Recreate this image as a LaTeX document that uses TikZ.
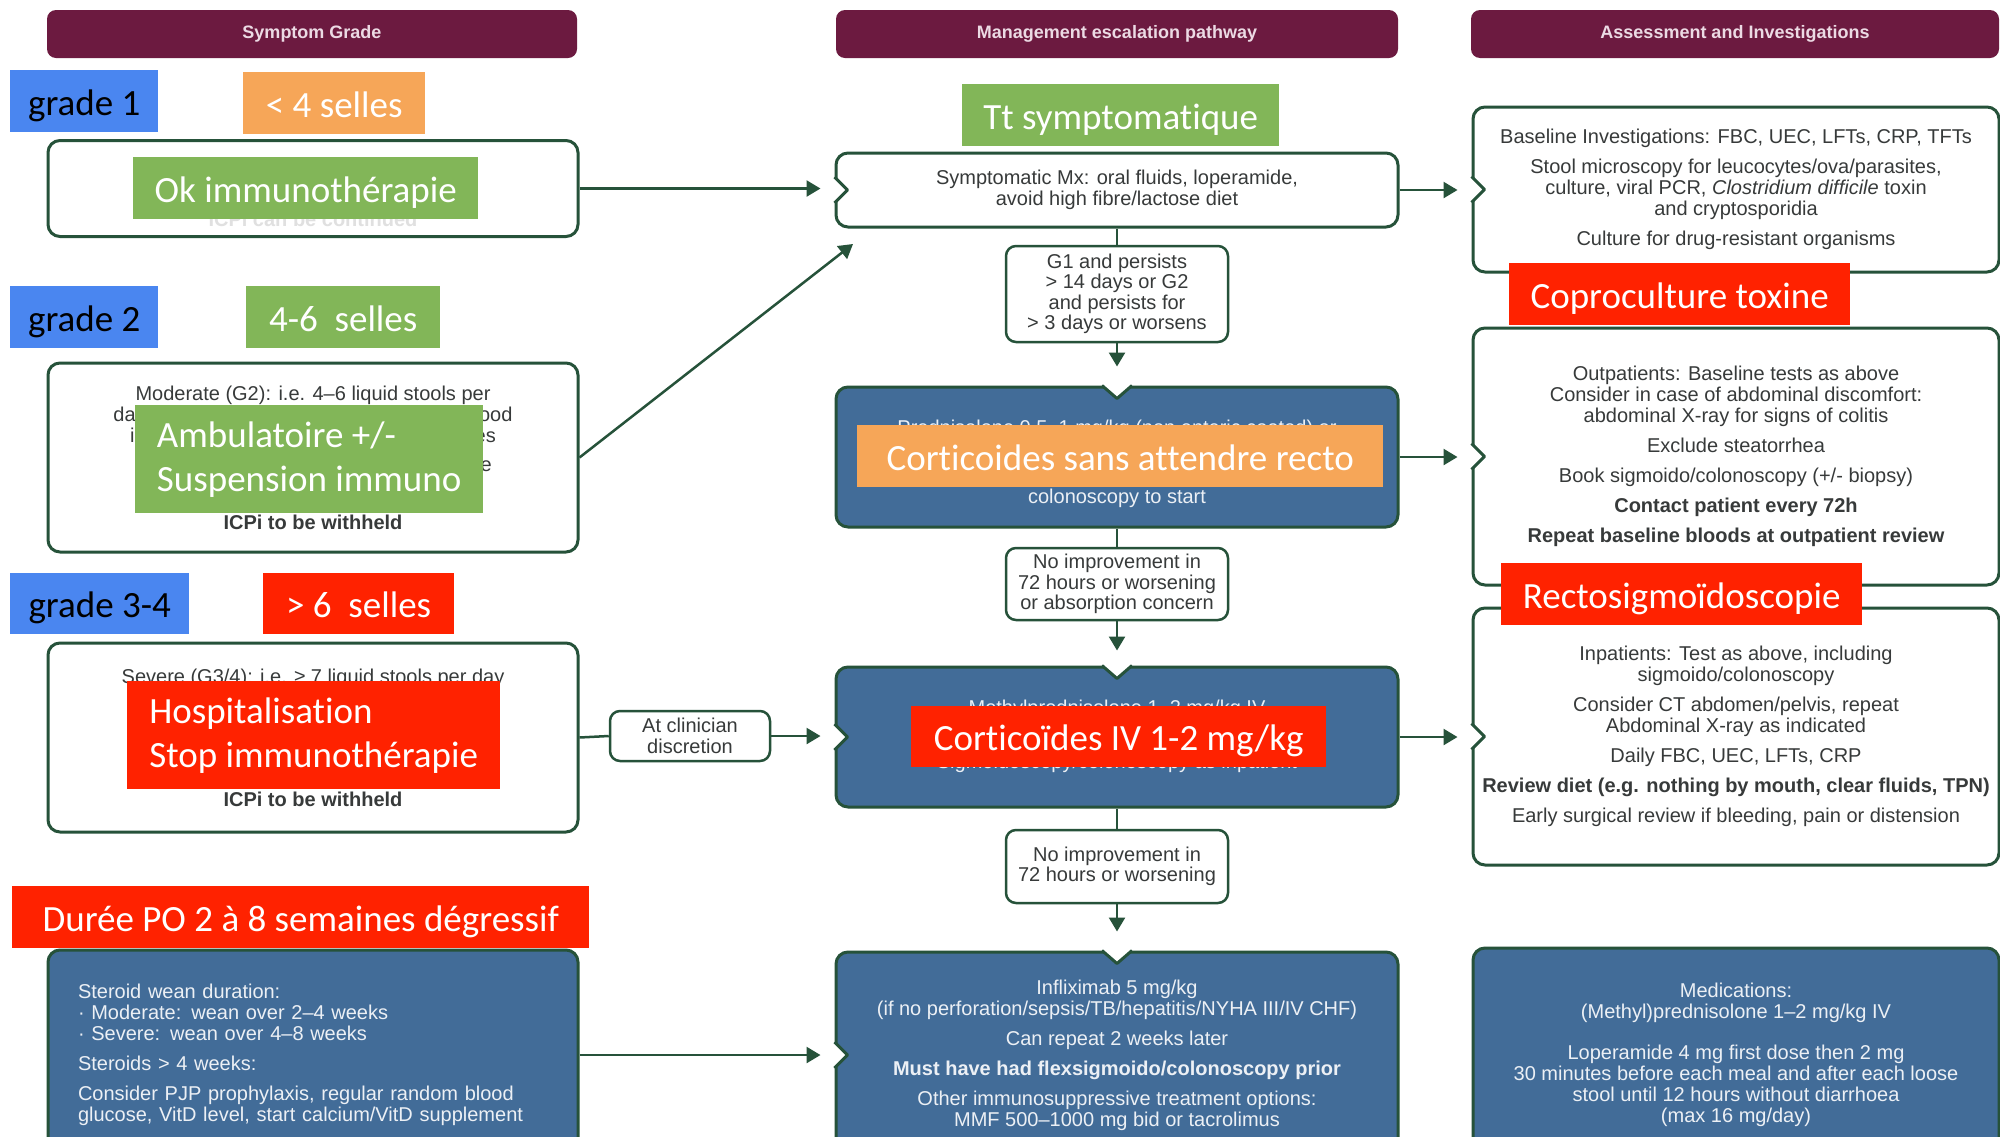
\documentclass[tikz,border=0pt]{standalone}
\usepackage{fontspec}
\setmainfont{Carlito}[Ligatures=NoCommon]
\newfontfamily\arial{Liberation Sans}
\usetikzlibrary{arrows.meta}

\definecolor{maroon}{RGB}{108,26,64}
\definecolor{headtxt}{RGB}{236,218,228}
\definecolor{dkgreen}{RGB}{38,82,58}
\definecolor{steel}{RGB}{66,108,152}
\definecolor{boxtxt}{RGB}{55,58,58}
\definecolor{tagblue}{RGB}{74,134,240}
\definecolor{tagorange}{RGB}{246,166,88}
\definecolor{taggreen}{RGB}{130,182,88}
\definecolor{tagred}{RGB}{255,34,0}

\tikzset{
  head/.style={fill=maroon, rounded corners=9pt, minimum height=48pt, text=headtxt, font=\arial\bfseries\fontsize{18}{20}\selectfont},
  wbox/.style={draw=dkgreen, line width=3pt, rounded corners=12pt, fill=white, align=center, text=boxtxt, inner sep=0pt, font=\arial\fontsize{20}{21}\selectfont},
  bbox/.style={wbox, fill=steel, text=white!90!steel},
  cond/.style={wbox, line width=2.5pt, rounded corners=10pt, font=\arial\fontsize{20}{20.5}\selectfont},
  boxtext/.style={inner sep=0pt, align=center, text=boxtxt, font=\arial\fontsize{20}{21}\selectfont},
  rim/.style={draw=dkgreen, line width=3pt, line join=round},
  conn/.style={draw=dkgreen, line width=2.5pt},
  flow/.style={conn, -{Triangle[length=14pt, width=16pt]}, shorten >=14pt},
  sticker/.style={inner sep=0pt, anchor=north west, text=white, align=left, font=\fontsize{37}{44}\selectfont},
  stickerone/.style={sticker, text height=32pt, text depth=4pt},
}

% notch in the left side of a box
\newcommand{\leftnotch}[1]{%
  \fill [white] (#1.west) ++(-2,-14) -- ++(15,14) -- ++(-15,14) -- cycle;
  \draw [rim] (#1.west) ++(0,-13) -- ++(13,13) -- ++(-13,13);}
% notch in the top side of a box
\newcommand{\topnotch}[1]{%
  \fill [white] (#1.north) ++(-16,-2) -- ++(16,15) -- ++(16,-15) -- cycle;
  \draw [rim] (#1.north) ++(-15,0) -- ++(15,13) -- ++(15,-13);}

\begin{document}
\begin{tikzpicture}[x=1pt, y=-1pt]
    \clip (0,0) rectangle (2000,1136); % page
    \fill [white] (0,0) rectangle (2000,1136); % background

    % column heads
    \node [head, minimum width=530pt] (headgrade) at (312,34) {Symptom Grade};
    \node [head, minimum width=562pt] (headpath) at (1117,34) {Management escalation pathway};
    \node [head, minimum width=528pt] (headinv) at (1735,34) {Assessment and Investigations};

    % symptom grade column
    \node [wbox, minimum width=530pt, minimum height=96pt] (g1) at (313,188.5) {};
    \node [boxtext, text=black!12] (g1t) at (313,219) {\textbf{ICPi can be continued}};
    \node [wbox, minimum width=530pt, minimum height=189pt] (g2) at (313,457.5) {Moderate (G2): i.e. 4–6 liquid stools per\\
      day over baseline or abdominal pain or blood\\
      in stool, or nausea, or nocturnal episodes\\[8pt]
      \hspace*{44pt}Outpatient management is possible\\[37pt]
      \textbf{ICPi to be withheld}};
    \node [wbox, minimum width=530pt, minimum height=189pt] (g3) at (313,737.5) {Severe (G3/4): i.e. ≥ 7 liquid stools per day\\[102pt]
      \textbf{ICPi to be withheld}};
    \node [bbox, minimum width=530pt, minimum height=210pt, text width=470pt, align=left] (wean) at (313,1055) {Steroid wean duration:\\
      · Moderate: wean over 2–4 weeks\\
      · Severe: wean over 4–8 weeks\\[9pt]
      Steroids > 4 weeks:\\[9pt]
      Consider PJP prophylaxis, regular random blood\\
      glucose, VitD level, start calcium/VitD supplement};
    \node [cond, minimum width=160pt, minimum height=50pt] (clin) at (690,736) {At clinician\\discretion};

    % escalation column
    \node [wbox, minimum width=562pt, minimum height=74pt] (m1) at (1117,190) {Symptomatic Mx: oral fluids, loperamide,\\avoid high fibre/lactose diet};
    \node [cond, minimum width=222pt, minimum height=96pt] (c1) at (1117,294) {G1 and persists\\> 14 days or G2\\and persists for\\> 3 days or worsens};
    \node [bbox, minimum width=562pt, minimum height=140pt] (m2) at (1117,457) {};
    \node [boxtext, text=white!90!steel, anchor=north] (m2t) at (1117,420) {Prednisolone 0.5–1 mg/kg (non enteric coated) or\\[48pt]colonoscopy to start};
    \node [cond, minimum width=222pt, minimum height=72pt] (c2) at (1117,584) {No improvement in\\72 hours or worsening\\or absorption concern};
    \node [bbox, minimum width=562pt, minimum height=140pt] (m3) at (1117,737) {};
    \node [boxtext, text=white!90!steel, anchor=north] (m3t) at (1117,700) {Methylprednisolone 1–2 mg/kg IV\\[33pt]Sigmoidoscopy/colonoscopy as inpatient};
    \node [cond, minimum width=222pt, minimum height=73pt] (c3) at (1117,866.5) {No improvement in\\72 hours or worsening};
    \node [bbox, minimum width=562pt, minimum height=206pt] (m4) at (1117,1055) {Infliximab 5 mg/kg\\
      (if no perforation/sepsis/TB/hepatitis/NYHA III/IV CHF)\\[9pt]
      Can repeat 2 weeks later\\[9pt]
      \textbf{Must have had flexsigmoido/colonoscopy prior}\\[9pt]
      Other immunosuppressive treatment options:\\
      MMF 500–1000 mg bid or tacrolimus};

    % investigations column
    \node [wbox, minimum width=526pt, minimum height=165pt] (r1) at (1736,189.5) {Baseline Investigations: FBC, UEC, LFTs, CRP, TFTs\\[9pt]
      Stool microscopy for leucocytes/ova/parasites,\\
      culture, viral PCR, \textit{Clostridium difficile} toxin\\
      and cryptosporidia\\[9pt]
      Culture for drug-resistant organisms};
    \node [wbox, minimum width=526pt, minimum height=257pt] (r2) at (1736,456.5) {Outpatients: Baseline tests as above\\
      Consider in case of abdominal discomfort:\\
      abdominal X-ray for signs of colitis\\[9pt]
      Exclude steatorrhea\\[9pt]
      Book sigmoido/colonoscopy (+/- biopsy)\\[9pt]
      \textbf{Contact patient every 72h}\\[9pt]
      \textbf{Repeat baseline bloods at outpatient review}};
    \node [wbox, minimum width=526pt, minimum height=257pt] (r3) at (1736,736.5) {Inpatients: Test as above, including\\
      sigmoido/colonoscopy\\[9pt]
      Consider CT abdomen/pelvis, repeat\\
      Abdominal X-ray as indicated\\[9pt]
      Daily FBC, UEC, LFTs, CRP\\[9pt]
      \textbf{Review diet (e.g. nothing by mouth, clear fluids, TPN)}\\[9pt]
      Early surgical review if bleeding, pain or distension};
    \node [bbox, minimum width=526pt, minimum height=214pt] (r4) at (1736,1055) {Medications:\\
      (Methyl)prednisolone 1–2 mg/kg IV\\[20pt]
      Loperamide 4 mg first dose then 2 mg\\
      30 minutes before each meal and after each loose\\
      stool until 12 hours without diarrhoea\\
      (max 16 mg/day)};

    % notches where arrows come in
    \leftnotch{m1} \leftnotch{m3} \leftnotch{m4}
    \topnotch{m2} \topnotch{m3} \topnotch{m4}
    \leftnotch{r1} \leftnotch{r2} \leftnotch{r3}

    % connectors
    \coordinate (diagtip) at (853,244); % end of the grade 2 arrow
    \draw [flow] (g1.east) -- (g1.east -| m1.west); % grade 1 -> symptomatic
    \draw [flow, shorten >=0pt] (g2.east) -- (diagtip); % grade 2 -> symptomatic
    \draw [conn] (g3.east) -- (clin.west); % grade 3-4 -> discretion
    \draw [flow] (clin.east) -- (clin.east -| m3.west); % discretion -> IV
    \draw [flow] (wean.east) -- (wean.east -| m4.west); % wean -> infliximab
    \draw [conn] (m1.south) -- (c1.north);
    \draw [flow, shorten >=19pt] (c1.south) -- (m2.north);
    \draw [conn] (m2.south) -- (c2.north);
    \draw [flow, shorten >=15pt] (c2.south) -- (m3.north);
    \draw [conn] (m3.south) -- (c3.north);
    \draw [flow, shorten >=19pt] (c3.south) -- (m4.north);
    \draw [flow] (m1.east) -- (m1.east -| r1.west); % to investigations
    \draw [flow] (m2.east) -- (m2.east -| r2.west);
    \draw [flow] (m3.east) -- (m3.east -| r3.west);

    % stickers laid over the chart
    \node [stickerone, fill=tagblue, text=black, minimum width=148pt, minimum height=62pt] (grade1) at (10,70) {grade 1};
    \node [stickerone, fill=tagorange, minimum width=182pt, minimum height=62pt] (lt4) at (243,72) {< 4 selles};
    \node [stickerone, fill=taggreen, minimum width=345pt, minimum height=62pt] (okimmuno) at (133,157) {Ok immunothérapie};
    \node [stickerone, fill=tagblue, text=black, minimum width=148pt, minimum height=62pt] (grade2) at (10,286) {grade 2};
    \node [stickerone, fill=taggreen, minimum width=194pt, minimum height=62pt] (btw46) at (246,286) {4-6\ \ selles};
    \node [sticker, fill=taggreen, minimum width=348pt, minimum height=108pt] (ambu) at (135,405) {Ambulatoire +/-\\Suspension immuno};
    \node [stickerone, fill=tagblue, text=black, minimum width=179pt, minimum height=61pt] (grade34) at (10,573) {grade 3-4};
    \node [stickerone, fill=tagred, minimum width=191pt, minimum height=61pt] (gt6) at (263,573) {> 6\ \ selles};
    \node [sticker, fill=tagred, minimum width=373pt, minimum height=108pt] (hosp) at (127,681) {Hospitalisation\\Stop immunothérapie};
    \node [stickerone, fill=tagred, minimum width=577pt, minimum height=62pt] (duree) at (12,886) {Durée PO 2 à 8 semaines dégressif};
    \node [stickerone, fill=taggreen, minimum width=317pt, minimum height=62pt] (ttsympt) at (962,84) {Tt symptomatique};
    \node [stickerone, fill=tagorange, minimum width=526pt, minimum height=62pt] (cortico) at (857,425) {Corticoides sans attendre recto};
    \node [stickerone, fill=tagred, minimum width=415pt, minimum height=61pt] (corticoiv) at (911,706) {Corticoïdes IV 1-2 mg/kg};
    \node [stickerone, fill=tagred, minimum width=341pt, minimum height=62pt] (copro) at (1509,263) {Coproculture toxine};
    \node [stickerone, fill=tagred, minimum width=361pt, minimum height=62pt] (recto) at (1501,563) {Rectosigmoïdoscopie};
\end{tikzpicture}
\end{document}
